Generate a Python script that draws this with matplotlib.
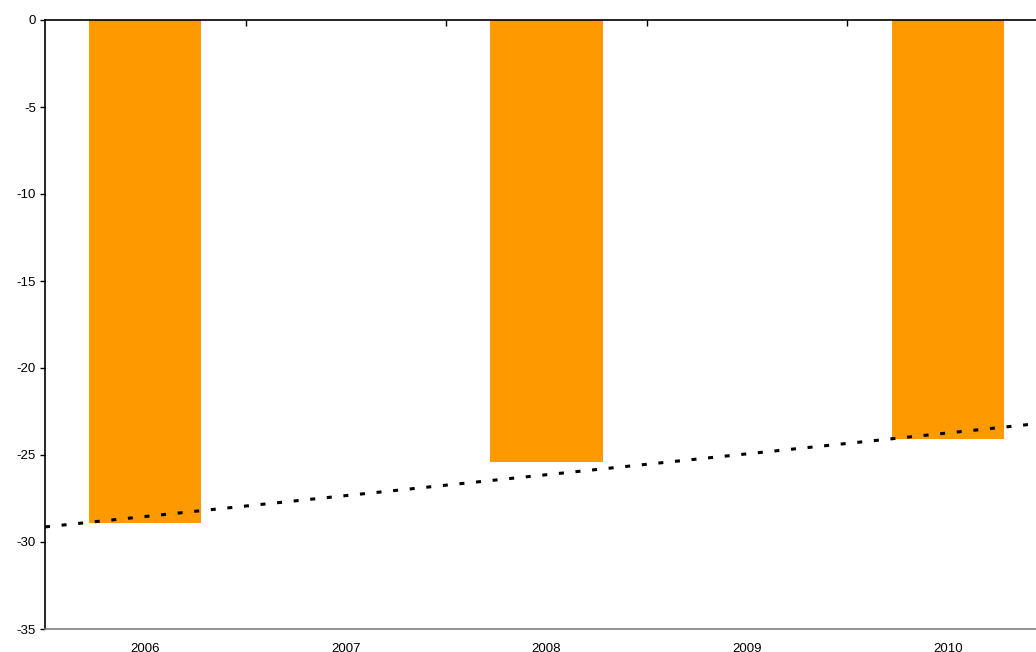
import numpy as np
import matplotlib
matplotlib.use("Agg")
import matplotlib.pyplot as plt

years = ["2006", "2007", "2008", "2009", "2010"]
values = [-28.9, np.nan, -25.4, np.nan, -24.1]
yticks = [0, -5, -10, -15, -20, -25, -30, -35]

plt.rcParams['font.family'] = ['Liberation Sans', 'DejaVu Sans']
plt.rcParams['lines.scale_dashes'] = False

W, H = 1036, 652
fig = plt.figure(figsize=(W / 100, H / 100), dpi=100)
ax = fig.add_axes([45 / W, (H - 629) / H, (1048 - 45) / W, 609 / H])

x = np.arange(len(years))
vals = np.array(values, dtype=float)
mask = ~np.isnan(vals)
ax.bar(x[mask], vals[mask], width=0.56, color="#FF9900", zorder=2)

# linear trendline from data
coef = np.polyfit(x[mask], vals[mask], 1)
xt = np.array([-0.5, 4.5])
ax.plot(xt, np.polyval(coef, xt), color="black", linewidth=2.2,
        dashes=(3.6, 8.4), dash_capstyle="butt", zorder=3)

ax.set_xlim(-0.5, 4.5)
ax.set_ylim(-35, 0)
ax.set_yticks(yticks)
ax.set_yticklabels([str(v) for v in yticks], fontsize=9.5)
ax.tick_params(axis='y', direction='out', length=3.5, width=1, pad=3, colors='black')

ax.set_xticks(x)
ax.set_xticklabels(years, fontsize=9.5)
ax.set_xticks(x[:-1] + 0.5, minor=True)
ax.tick_params(axis='x', which='major', length=0, pad=10)
ax.tick_params(axis='x', which='minor', bottom=False, top=True, direction='in', length=4, width=1)

ax.spines['right'].set_visible(False)
ax.spines['top'].set_color('black')
ax.spines['top'].set_linewidth(1.2)
ax.spines['left'].set_color('black')
ax.spines['left'].set_linewidth(1.2)
ax.spines['bottom'].set_color('#808080')
ax.spines['bottom'].set_linewidth(1.2)
ax.set_facecolor('white')
fig.patch.set_facecolor('white')

fig.savefig("out.png", dpi=100)
